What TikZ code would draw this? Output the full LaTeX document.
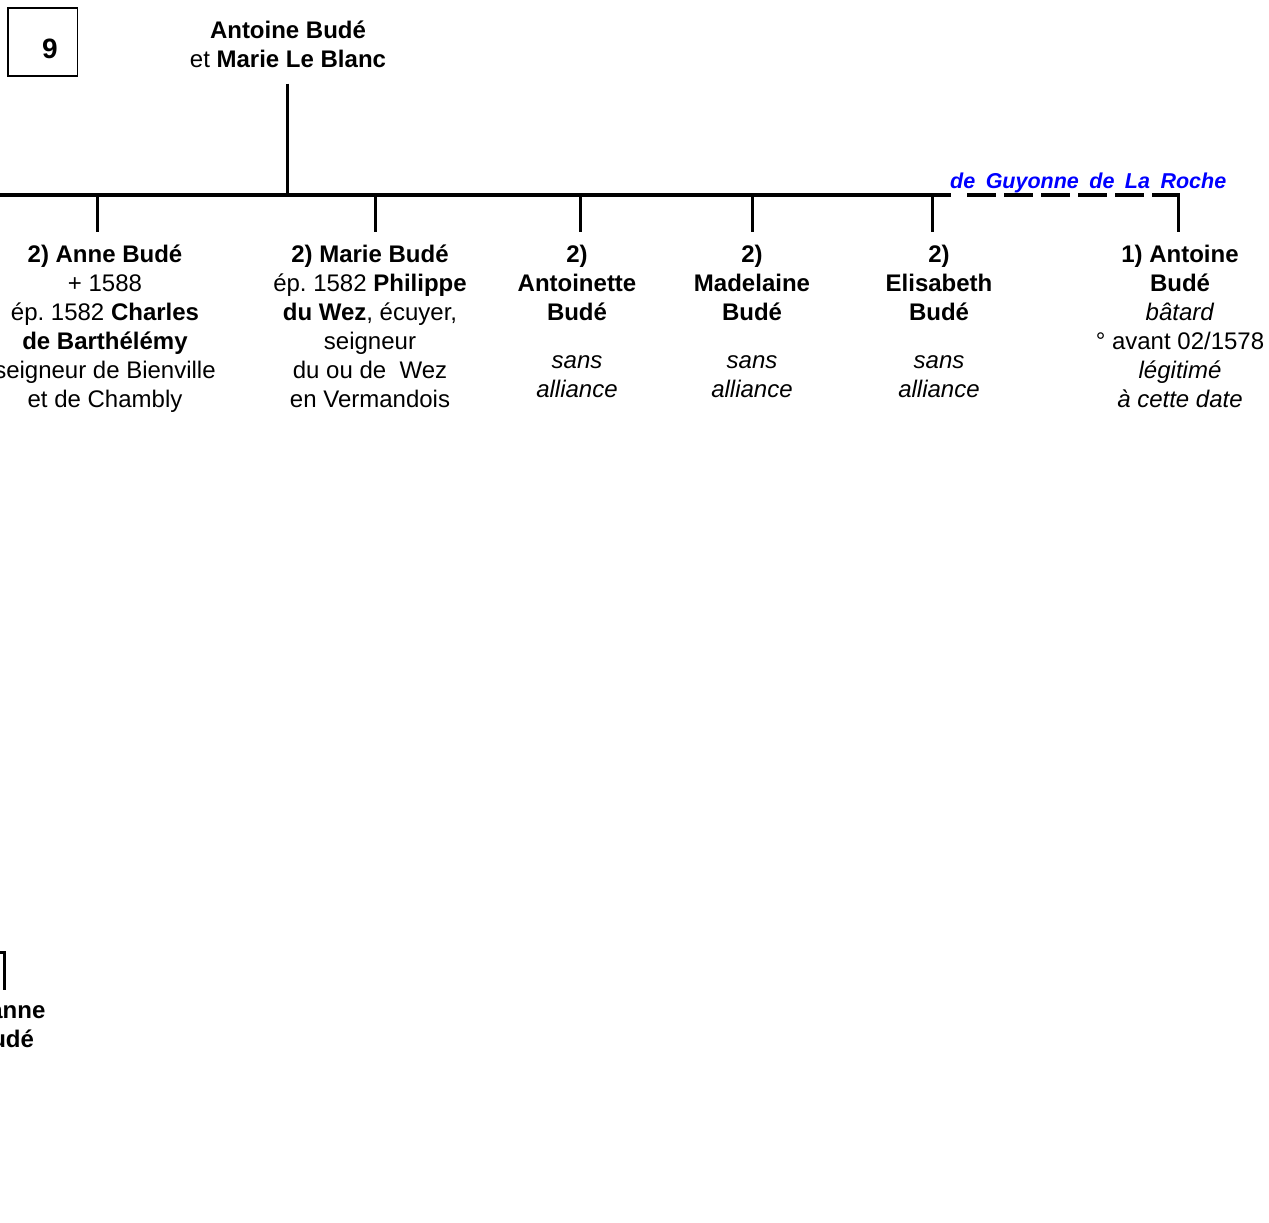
\documentclass[tikz,border=0pt]{standalone}
\usepackage{fontspec}
\setmainfont{Liberation Sans}
\begin{document}
\begin{tikzpicture}[x=1pt,y=-1pt,
  txt/.style={align=center,inner sep=0pt,anchor=north,font=\fontsize{24}{29}\selectfont},
  bar/.style={line width=4pt},
  tick/.style={line width=3pt},
]
\useasboundingbox (0,0) rectangle (1269,1223);
% box 9
\draw[line width=1.3pt] (8,8) rectangle (77.5,76) coordinate (boxc);
\node[inner sep=0pt,font=\fontsize{28}{30}\selectfont\bfseries] (num) at (50,48.5) {9};
% parents
\node[txt] (p) at (288,20.5) {\textbf{Antoine Budé}\\et \textbf{Marie Le Blanc}};
% children
\node[txt] (c1) at (105,244.5) {\textbf{2) Anne Budé}\\+ 1588\\ép.\ 1582 \textbf{Charles}\\\textbf{de Barthélémy}\\seigneur de Bienville\\et de Chambly};
\node[txt] (c2) at (370,244.5) {\textbf{2) Marie Budé}\\ép.\ 1582 \textbf{Philippe}\\\textbf{du Wez}, écuyer,\\seigneur\\du ou de~ Wez\\en Vermandois};
\node[txt] (c3) at (577,244.5) {\textbf{2)}\\\textbf{Antoinette}\\\textbf{Budé}\\[19pt]\textit{sans}\\\textit{alliance}};
\node[txt] (c4) at (752,244.5) {\textbf{2)}\\\textbf{Madelaine}\\\textbf{Budé}\\[19pt]\textit{sans}\\\textit{alliance}};
\node[txt] (c5) at (939,244.5) {\textbf{2)}\\\textbf{Elisabeth}\\\textbf{Budé}\\[19pt]\textit{sans}\\\textit{alliance}};
\node[txt] (c6) at (1180,244.5) {\textbf{1) Antoine}\\\textbf{Budé}\\\textit{bâtard}\\° avant 02/1578\\\textit{légitimé}\\\textit{à cette date}};
\node[inner sep=0pt,anchor=base west,text=blue,font=\fontsize{21.5}{22}\selectfont\bfseries\itshape] (mere) at (950,188) {de\hspace{4.5pt} Guyonne\hspace{4.5pt} de\hspace{4.5pt} La\hspace{4.5pt} Roche};
% bottom-left fragment
\node[txt] (c7) at (4,1002) {\textbf{Jeanne}\\\textbf{Budé}};
% connectors
\coordinate (pb) at (287,195);
\coordinate (bl) at (-5,195);
\coordinate (bs) at (951,195);
\coordinate (bd) at (967,195);
\coordinate (t1) at (97,232);
\coordinate (t2) at (375,232);
\coordinate (t3) at (580,232);
\coordinate (t4) at (752,232);
\coordinate (t5) at (932,232);
\coordinate (t6) at (1178,232);
\path (p.south -| pb) ++(0,16) coordinate (ptop);
\draw[tick] (ptop) -- (pb);
\draw[bar] (bl) -- (bs);
\draw[bar,dash pattern=on 29pt off 8pt] (bd) -- (t6 |- bd);
\draw[tick] ([yshift=2pt]t6 |- bd) -- (t6);
\foreach \t in {t1,t2,t3,t4,t5} \draw[tick] (\t |- pb) -- (\t);
\coordinate (k1) at (-5,952);
\coordinate (k2) at (4.5,990);
\draw[line width=3pt] (k1) -| (k2);
\end{tikzpicture}
\end{document}
